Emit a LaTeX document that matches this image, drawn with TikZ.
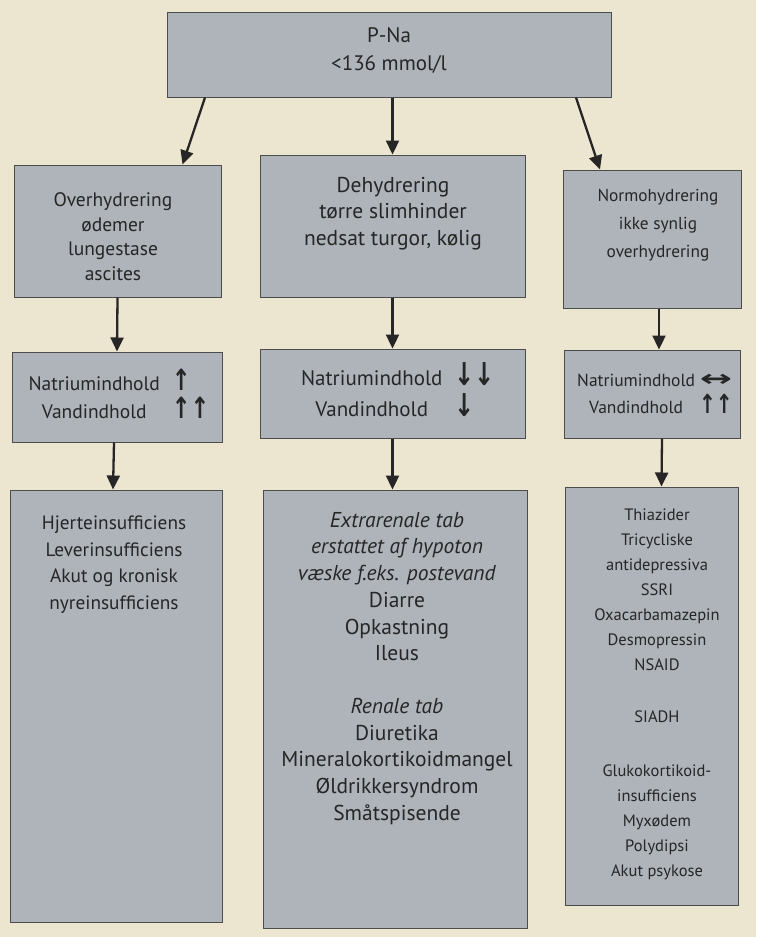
\documentclass[tikz,border=0pt]{standalone}
\usepackage{fontspec}
\setmainfont{PT Sans}
\newfontfamily\arrowfont{DejaVu Sans}
\usetikzlibrary{arrows.meta,positioning,calc}
\definecolor{paper}{RGB}{236,229,207}
\definecolor{boxgrey}{RGB}{174,180,186}
\newcommand{\up}{\scalebox{1.15}[1.5]{\arrowfont\bfseries ↑}}
\newcommand{\dn}{\scalebox{1.15}[1.5]{\arrowfont\bfseries ↓}}
\newcommand{\lr}{\scalebox{2.2}[1.3]{\arrowfont\bfseries ↔}}
\begin{document}
\begin{tikzpicture}[x=1pt,y=-1pt,
  box/.style={draw=black!70,line width=1pt,fill=boxgrey,inner sep=0pt},
  txt/.style={align=center,inner sep=0pt,text=black!85},
  arr/.style={draw=black!85,line width=2.3pt,-{Triangle[length=14pt,width=13pt]}}]
\fill[paper] (0,0) rectangle (756,937);
\useasboundingbox (0,0) rectangle (756,937);
% top
\node[box,minimum width=444pt,minimum height=85pt] (pna) at (389,54.5) {};
\node[txt,font=\fontsize{21}{28}\selectfont] (pnat) at (389,51) {P-Na\\<136 mmol/l};
% hydrering
\node[box,minimum width=207pt,minimum height=132pt] (ovr) at (117.5,231) {};
\node[box,minimum width=265pt,minimum height=142pt] (deh) at (392.5,226) {};
\node[box,minimum width=178pt,minimum height=138pt] (nor) at (652,239) {};
\node[txt,font=\fontsize{19.5}{24.5}\selectfont] (ovrt) at (113,236.5) {Overhydrering\\ødemer\\lungestase\\ascites};
\node[txt,font=\fontsize{21.5}{26.5}\selectfont] (deht) at (393,213.5) {Dehydrering\\tørre slimhinder\\nedsat turgor, kølig};
\node[txt,font=\fontsize{17.3}{28}\selectfont] (nort) at (658,225) {Normohydrering\\ikke synlig\\overhydrering};
% natrium og vand
\node[box,minimum width=210pt,minimum height=90pt] (ovrna) at (117,397) {};
\node[box,minimum width=265pt,minimum height=89pt] (dehna) at (392.5,393.5) {};
\node[box,minimum width=176pt,minimum height=88pt] (norna) at (652,394) {};
\node[txt,font=\fontsize{19.5}{25}\selectfont] (ovrnat) at (119,397.5)
  {\begin{tabular}{@{}c@{\hspace{12pt}}l@{}}Natriumindhold & \up\\ Vandindhold & \up\up\end{tabular}};
\node[txt,font=\fontsize{21}{27}\selectfont] (dehnat) at (398,393.5)
  {\begin{tabular}{@{}c@{\hspace{12pt}}l@{}}Natriumindhold & \dn\dn\\ Vandindhold & \dn\end{tabular}};
\node[txt,font=\fontsize{17.5}{25}\selectfont] (cornat) at (655,395)
  {\begin{tabular}{@{}c@{\hspace{4pt}}c@{}}Natriumindhold & \lr\\ Vandindhold & \up\up\end{tabular}};
% aarsager
\node[box,minimum width=212pt,minimum height=432pt] (ovrc) at (116,706) {};
\node[box,minimum width=264pt,minimum height=438pt] (dehc) at (395,709) {};
\node[box,minimum width=173pt,minimum height=418pt] (norc) at (651.5,696) {};
\node[txt,anchor=north,font=\fontsize{19.3}{26.5}\selectfont] (ovrct) at (114,516)
  {Hjerteinsufficiens\\Leverinsufficiens\\Akut og kronisk\\nyreinsufficiens};
\node[txt,anchor=north,font=\fontsize{21.5}{26.7}\selectfont] (dehct) at (397,512)
  {\textit{Extrarenale tab}\\\textit{erstattet af hypoton}\\\textit{væske f.eks. postevand}\\Diarre\\Opkastning\\Ileus\\[26pt]
   \textit{Renale tab}\\Diuretika\\Mineralokortikoidmangel\\Øldrikkersyndrom\\Småtspisende};
\node[txt,anchor=north,font=\fontsize{16.5}{25}\selectfont] (norct) at (657,509)
  {Thiazider\\Tricycliske\\antidepressiva\\SSRI\\Oxacarbamazepin\\Desmopressin\\NSAID\\[27pt]
   SIADH\\[29pt]Glukokortikoid-\\insufficiens\\Myxødem\\Polydipsi\\Akut psykose};
% pile
\draw[arr] ([xshift=-184pt]pna.south) -- ([xshift=65pt]ovr.north);
\draw[arr] (pna.south -| deh.north) -- (deh.north);
\draw[arr] ([xshift=187pt]pna.south) -- ([xshift=-52pt]nor.north);
\draw[arr] (ovr.south) -- (ovrna.north);
\draw[arr] (deh.south) -- (dehna.north);
\draw[arr] ([xshift=7pt]nor.south) -- ([xshift=7pt]norna.north);
\draw[arr] ([xshift=-3pt]ovrna.south) -- ([xshift=-3pt]ovrc.north);
\draw[arr] (dehna.south) -- (dehna.south |- dehc.north);
\draw[arr] ([xshift=10pt]norna.south) -- ([xshift=10pt]norc.north);
\end{tikzpicture}
\end{document}
